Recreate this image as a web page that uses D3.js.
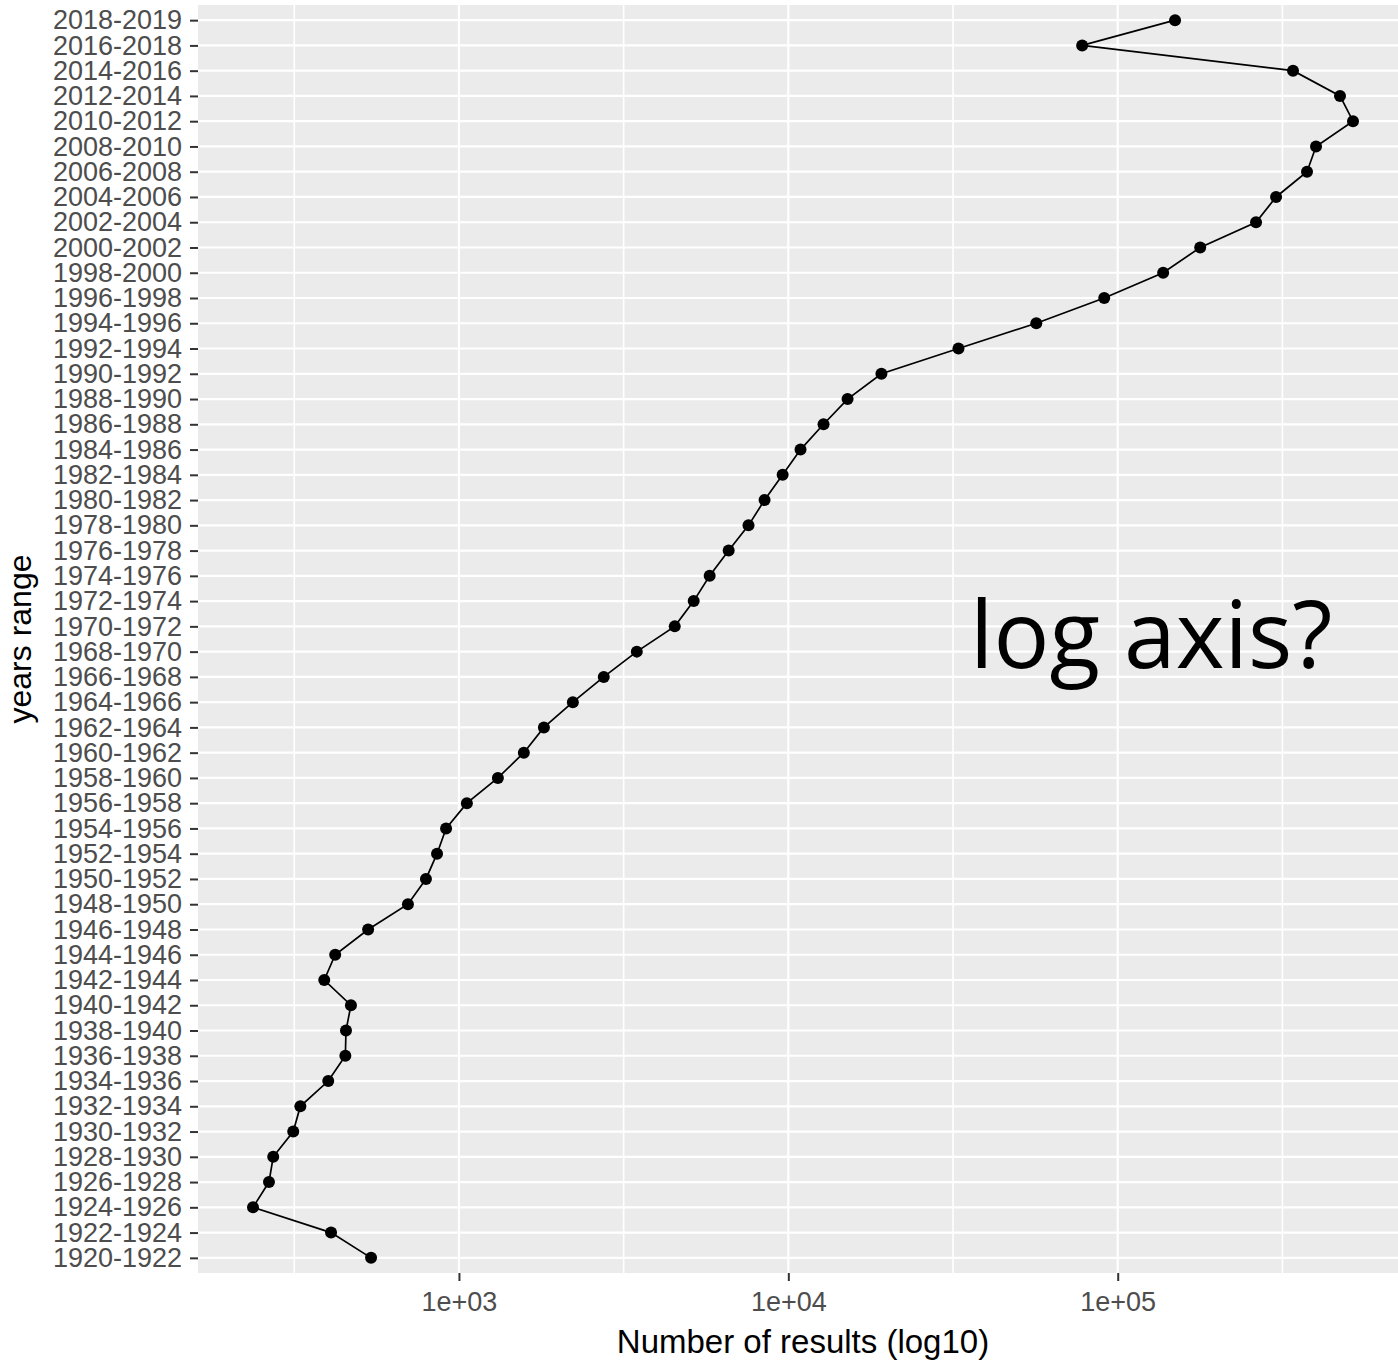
<!DOCTYPE html>
<html>
<head>
<meta charset="utf-8">
<script src="https://cdn.jsdelivr.net/npm/d3@7"></script>
<style>
  body { margin: 0; background: #fff; }
  svg { display: block; font-family: "Liberation Sans", Arial, sans-serif; }
</style>
</head>
<body>
<div id="chart"></div>
<script>
// year ranges, bottom to top
const yearRanges = [
  "1920-1922", "1922-1924", "1924-1926", "1926-1928", "1928-1930",
  "1930-1932", "1932-1934", "1934-1936", "1936-1938", "1938-1940",
  "1940-1942", "1942-1944", "1944-1946", "1946-1948", "1948-1950",
  "1950-1952", "1952-1954", "1954-1956", "1956-1958", "1958-1960",
  "1960-1962", "1962-1964", "1964-1966", "1966-1968", "1968-1970",
  "1970-1972", "1972-1974", "1974-1976", "1976-1978", "1978-1980",
  "1980-1982", "1982-1984", "1984-1986", "1986-1988", "1988-1990",
  "1990-1992", "1992-1994", "1994-1996", "1996-1998", "1998-2000",
  "2000-2002", "2002-2004", "2004-2006", "2006-2008", "2008-2010",
  "2010-2012", "2012-2014", "2014-2016", "2016-2018", "2018-2019"
];

// number of results
const results = [
  541, 409, 237, 265, 273,
  314, 330, 401, 452, 454,
  470, 390, 421, 530, 700,
  794, 858, 914, 1057, 1313,
  1574, 1811, 2217, 2752, 3467,
  4520, 5160, 5770, 6590, 7570,
  8470, 9610, 10890, 12790, 15130,
  19170, 32850, 56600, 91000, 137400,
  178000, 263000, 302500, 375600, 400000,
  518000, 473000, 340600, 78000, 149300
];

const xTicks = [1e3, 1e4, 1e5];
const xTickLabels = ["1e+03", "1e+04", "1e+05"];
const xMinor = [Math.pow(10, 2.5), Math.pow(10, 3.5), Math.pow(10, 4.5), Math.pow(10, 5.5)];

const width = 1398, height = 1361;
const panel = { left: 198, top: 5, right: 1408, bottom: 1273 };

const svg = d3.select("#chart").append("svg")
    .attr("width", width)
    .attr("height", height);

const data = yearRanges.map((r, i) => ({ range: r, value: results[i] }));

// log-space extent with 5% expansion, like ggplot
const [lo, hi] = d3.extent(results).map(Math.log10);
const pad = (hi - lo) * 0.05;
const x = d3.scaleLog()
    .domain([Math.pow(10, lo - pad), Math.pow(10, hi + pad)])
    .range([panel.left, panel.right]);

const y = d3.scalePoint()
    .domain(yearRanges)
    .range([panel.bottom, panel.top])
    .padding(0.6);

// panel
svg.append("rect")
    .attr("x", panel.left)
    .attr("y", panel.top)
    .attr("width", panel.right - panel.left)
    .attr("height", panel.bottom - panel.top)
    .attr("fill", "#ebebeb");

const grid = svg.append("g").attr("stroke", "#fff");

grid.selectAll("line.minor")
  .data(xMinor)
  .enter().append("line")
    .attr("class", "minor")
    .attr("x1", d => x(d)).attr("x2", d => x(d))
    .attr("y1", panel.top).attr("y2", panel.bottom)
    .attr("stroke-width", 1.6);

grid.selectAll("line.hmajor")
  .data(yearRanges)
  .enter().append("line")
    .attr("class", "hmajor")
    .attr("x1", panel.left).attr("x2", panel.right)
    .attr("y1", d => y(d)).attr("y2", d => y(d))
    .attr("stroke-width", 2.2);

grid.selectAll("line.vmajor")
  .data(xTicks)
  .enter().append("line")
    .attr("class", "vmajor")
    .attr("x1", d => x(d)).attr("x2", d => x(d))
    .attr("y1", panel.top).attr("y2", panel.bottom)
    .attr("stroke-width", 2.2);

// line + points
const line = d3.line()
    .x(d => x(d.value))
    .y(d => y(d.range));

svg.append("path")
    .datum(data)
    .attr("fill", "none")
    .attr("stroke", "#000")
    .attr("stroke-width", 1.7)
    .attr("d", line);

svg.append("g")
  .selectAll("circle")
  .data(data)
  .enter().append("circle")
    .attr("cx", d => x(d.value))
    .attr("cy", d => y(d.range))
    .attr("r", 6)
    .attr("fill", "#000");

// axes
const xAxis = svg.append("g")
    .attr("transform", `translate(0,${panel.bottom})`)
    .call(d3.axisBottom(x)
      .tickValues(xTicks)
      .tickFormat((d, i) => xTickLabels[i])
      .tickSize(8)
      .tickPadding(11));

const yAxis = svg.append("g")
    .attr("transform", `translate(${panel.left},0)`)
    .call(d3.axisLeft(y).tickSize(8).tickPadding(8));

[xAxis, yAxis].forEach(a => {
  a.select(".domain").remove();
  a.selectAll(".tick line").attr("stroke", "#333").attr("stroke-width", 2);
  a.selectAll(".tick text")
      .attr("fill", "#4d4d4d")
      .style("font-size", "27px")
      .style("font-family", "'Liberation Sans', Arial, sans-serif");
});

// axis titles
svg.append("text")
    .attr("x", (panel.left + panel.right) / 2)
    .attr("y", 1353)
    .attr("text-anchor", "middle")
    .style("font-size", "33px")
    .attr("fill", "#000")
    .text("Number of results (log10)");

svg.append("text")
    .attr("transform", `translate(31,${(panel.top + panel.bottom) / 2}) rotate(-90)`)
    .attr("text-anchor", "middle")
    .style("font-size", "32px")
    .attr("fill", "#000")
    .text("years range");

// annotation
svg.append("text")
    .attr("x", 970)
    .attr("y", 668)
    .style("font-family", "'Open Sans', 'Noto Sans', sans-serif")
    .style("font-size", "93px")
    .attr("fill", "#000")
    .text("log axis?");
</script>
</body>
</html>
